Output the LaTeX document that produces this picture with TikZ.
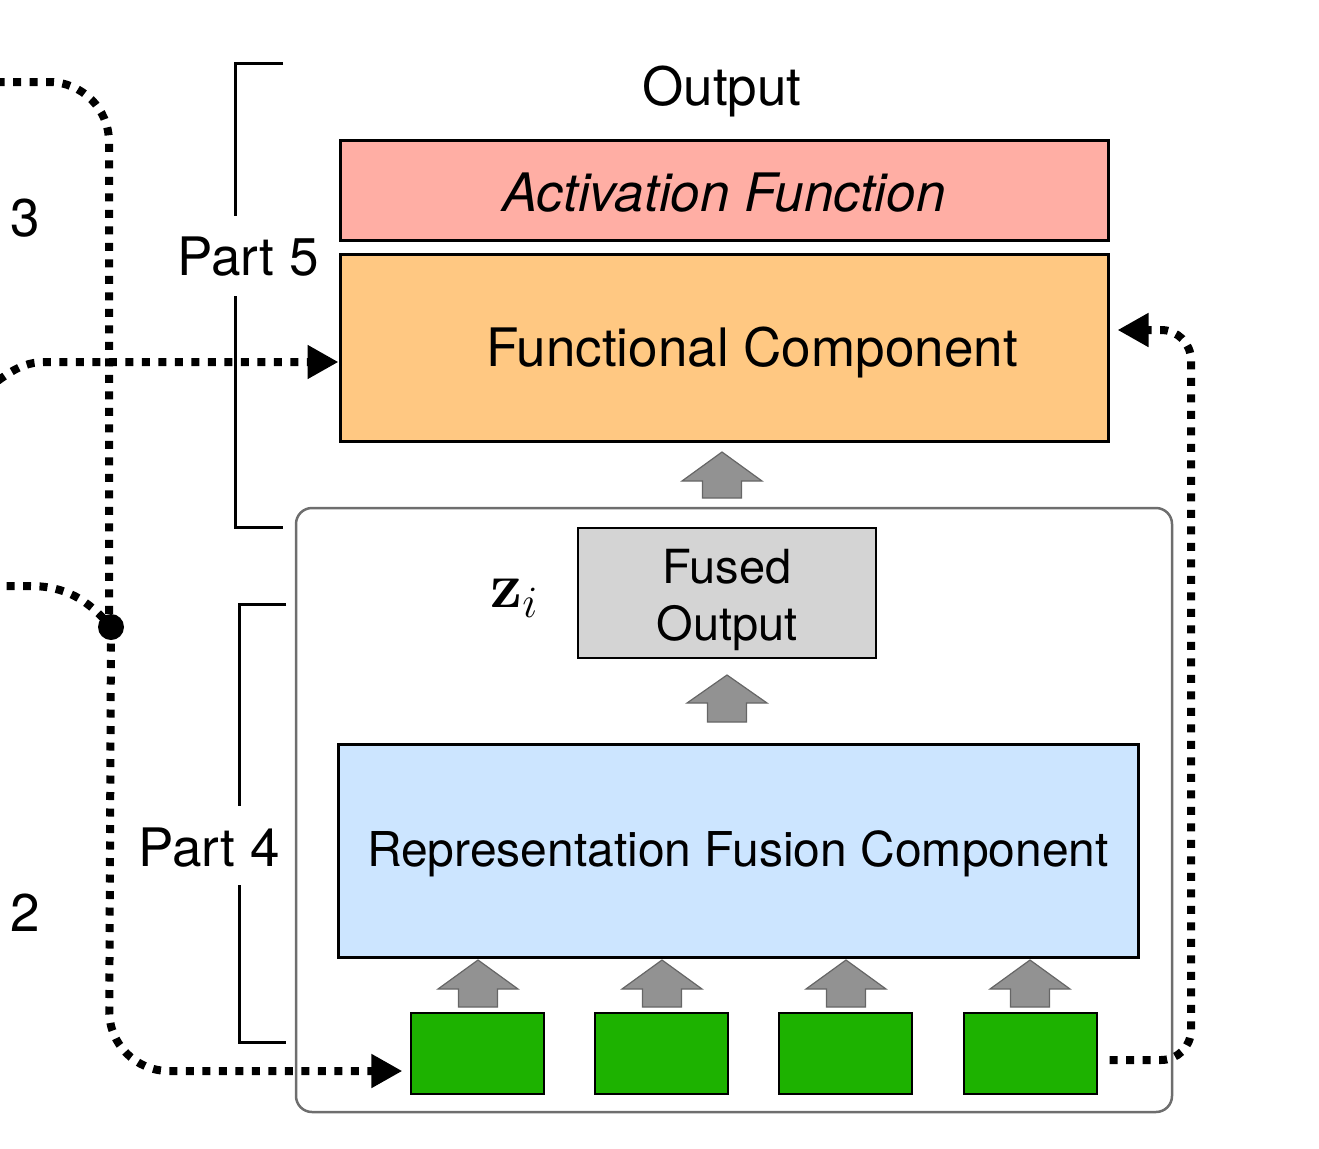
\RequirePackage{fix-cm}
\documentclass[tikz,border=0pt]{standalone}
\usepackage[no-math]{fontspec}
\setmainfont{TeX Gyre Heros}
\usetikzlibrary{arrows.meta}
\definecolor{actred}{RGB}{255,174,164}
\definecolor{fcorange}{RGB}{255,200,130}
\definecolor{rfblue}{RGB}{204,229,255}
\definecolor{feedgreen}{RGB}{29,178,0}
\definecolor{fusedgray}{RGB}{212,212,212}
\definecolor{arrowgray}{RGB}{146,146,146}
\definecolor{framegray}{RGB}{110,110,110}
\tikzset{
  box/.style={draw, line width=3pt, inner sep=0pt},
  greenbox/.style={draw, line width=1.2pt, fill=feedgreen, minimum width=133pt, minimum height=81pt},
  blockarrow/.style={draw=black!60, line width=1.2pt, fill=arrowgray},
  flowline/.style={line width=8pt, dash pattern=on 8pt off 8.5pt},
  flowtip/.style={-{Triangle[length=31pt,width=32pt]}},
  bracket/.style={line width=3pt},
  big/.style={font=\fontsize{53}{60}\selectfont}
}
% block up arrow: centre x, tip y, head base y, bottom y
\newcommand{\blockup}[4]{\draw[blockarrow] (#1,#2) -- (#1+40,#3) -- (#1+19.5,#3) -- (#1+19.5,#4) -- (#1-19.5,#4) -- (#1-19.5,#3) -- (#1-40,#3) -- cycle;}
\begin{document}
\begin{tikzpicture}[x=1pt,y=-1pt]
	\useasboundingbox (0,0) rectangle (1319,1148);
	%%%%% outer frame %%%%%
	\draw[framegray, line width=2.5pt, rounded corners=16pt] (296,508) rectangle (1172,1112);
	
	%%%%% boxes %%%%%
	\node[big] (out) at (722,91) {Output};
	\node[box, fill=actred, minimum width=768pt, minimum height=100pt] (act) at (724,190) {};
	\node[big] (acttext) at ([yshift=-3pt]act.center) {\itshape Activation Function};
	\node[box, fill=fcorange, minimum width=768pt, minimum height=187pt] (fc) at (724,347.5) {};
	\node[big] (fctext) at ([xshift=28pt,yshift=-5pt]fc.center) {Functional Component};
	\node[draw, line width=1.2pt, fill=fusedgray, minimum width=298pt, minimum height=130pt] (fused) at (727,593) {};
	\node[align=center, font=\fontsize{47}{57}\selectfont] (fusedtext) at ([yshift=-7pt]fused.center) {Fused\\Output};
	\node[font=\fontsize{64}{70}\selectfont] (zi) at (514,598) {$\mathbf{z}_i$};
	\node[box, fill=rfblue, minimum width=800pt, minimum height=213pt] (rf) at (738,850.5) {};
	\node[font=\fontsize{48}{56}\selectfont] (rftext) at ([yshift=-3pt]rf.center) {Representation Fusion Component};
	\foreach \i/\cx in {1/477.5,2/661.5,3/845.5,4/1030.5}
		\node[greenbox] (g\i) at (\cx,1053.5) {};
	
	%%%%% block arrows %%%%%
	\blockup{722}{452}{481}{498}
	\blockup{727}{675}{703}{722}
	\foreach \cx in {478,662,846,1030}{
		\blockup{\cx}{960}{989}{1007}
	}
	
	%%%%% brackets %%%%%
	\node[big] (p5) at (248,257) {Part 5};
	\draw[bracket] (283,64) -- (235,64) -- (235,216);
	\draw[bracket] (235,296) -- (235,527) -- (283,527);
	\node[big] (p4) at (209,848) {Part 4};
	\draw[bracket] (286,604) -- (239,604) -- (239,806);
	\draw[bracket] (239,885) -- (239,1042) -- (286,1042);
	
	%%%%% dotted flows %%%%%
	\node[big] (n3) at (25,218) {3};
	\node[big] (n2) at (25,913) {2};
	\fill (111,627) circle (13pt) coordinate (jn);
	\draw[flowline, rounded corners=60pt] (-20,82) -- (109,82) -- (109,627);
	\draw[flowline] (-10,586) -- (30,586) to[out=0,in=130] (jn);
	\draw[flowline, flowtip, rounded corners=60pt] (jn) -- (109,1071) -- ([xshift=-8pt,yshift=-17.5pt]g1.west);
	\draw[flowline, flowtip] (-30,398) to[out=25,in=180] (45,362) -- ([yshift=-14.5pt]fc.west);
	\draw[flowline, flowtip, rounded corners=30pt] ([xshift=12pt,yshift=-6.5pt]g4.east) -- (1191,1060) -- (1191,330) -- ([xshift=8pt,yshift=17.5pt]fc.east);
\end{tikzpicture}
\end{document}
